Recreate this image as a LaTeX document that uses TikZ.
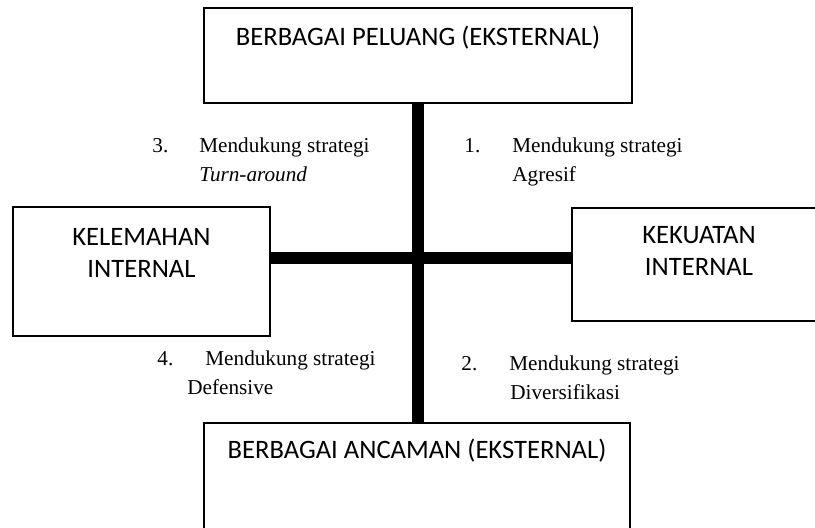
\documentclass[tikz,border=0pt]{standalone}
\usepackage{fontspec}
\setmainfont{Liberation Serif}
\newfontfamily\boxfont{Carlito}

\begin{document}
\begin{tikzpicture}[
    x=0.5pt, y=-0.5pt,
    quad/.style={rectangle, draw=black, line width=1pt, inner sep=0pt, anchor=north, align=center, font=\boxfont\fontsize{13.3pt}{16pt}\selectfont},
    bar/.style={line width=6pt},
    strat/.style={inner sep=0pt, anchor=base west, align=left, font=\fontsize{10.6pt}{14.5pt}\selectfont}
]
\useasboundingbox (0,0) rectangle (815,528);

% External boxes
\node[quad, minimum width=214pt, text height=19pt, text depth=28.5pt] (peluang) at (418,7) {BERBAGAI PELUANG (EKSTERNAL)};
\node[quad, minimum width=213pt, text height=18pt, text depth=60pt] (ancaman) at (417,422) {BERBAGAI ANCAMAN (EKSTERNAL)};

% Internal boxes
\node[quad, minimum width=128.5pt, text height=35.5pt, text depth=29pt] (kelemahan) at (141.5,206) {KELEMAHAN\\INTERNAL};
\node[quad, minimum width=127pt, text height=34pt, text depth=22.5pt] (kekuatan) at (699,207) {KEKUATAN\\INTERNAL};

% Axes
\coordinate (cross) at (418,258);
\draw[bar] (peluang.south -| cross) -- (ancaman.north -| cross);
\draw[bar] (kelemahan.east |- cross) -- (kekuatan.west |- cross);

% Strategies (placed at the baseline of the second line)
\node[strat] (s3) at (152,182) {\makebox[23.5pt][l]{3.}Mendukung strategi\\\hspace*{23.5pt}\textit{Turn-around}};
\node[strat] (s1) at (464,182) {\makebox[24pt][l]{1.}Mendukung strategi\\\hspace*{24pt}Agresif};
\node[strat] (s4) at (157,395) {\makebox[24pt][l]{4.}Mendukung strategi\\\hspace*{15pt}Defensive};
\node[strat] (s2) at (461,400) {\makebox[24pt][l]{2.}Mendukung strategi\\\hspace*{24.5pt}Diversifikasi};

\end{tikzpicture}
\end{document}
